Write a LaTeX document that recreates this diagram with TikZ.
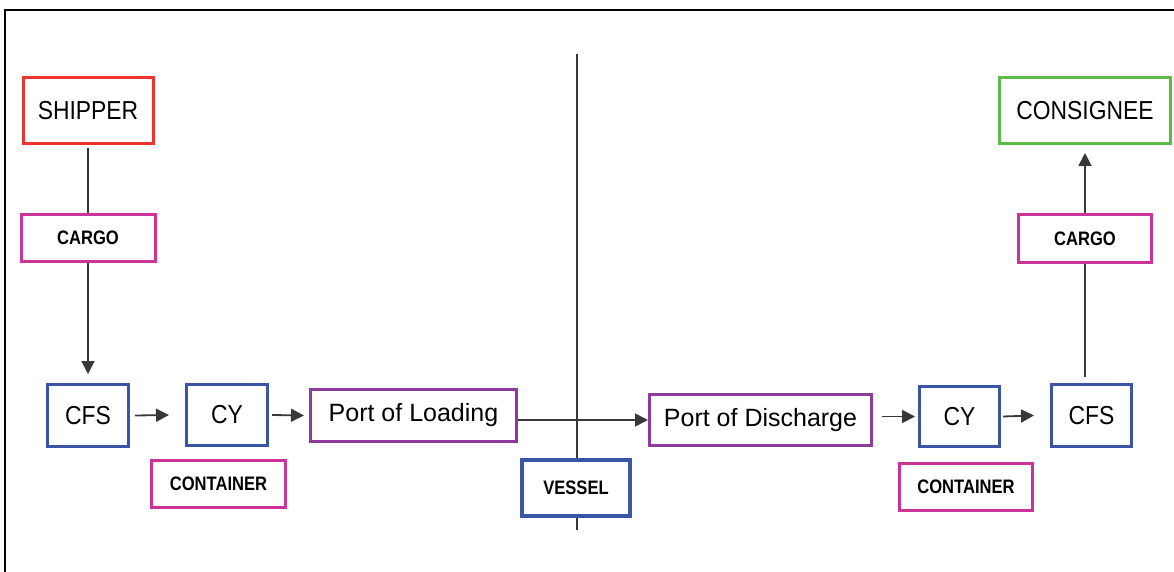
\documentclass[tikz,border=0pt]{standalone}
\usepackage{fontspec}
\setmainfont{Liberation Sans}
\newfontfamily\capsfont[FakeStretch=0.88]{Liberation Sans}
\newfontfamily\smallfont[FakeStretch=0.85]{Liberation Sans}
\usetikzlibrary{arrows.meta}
\definecolor{cRed}{HTML}{EE3330}
\definecolor{cMag}{HTML}{CC3399}
\definecolor{cBlue}{HTML}{3B55A6}
\definecolor{cPurp}{HTML}{8E3A9C}
\definecolor{cGreen}{HTML}{5CBB46}
\definecolor{cLine}{HTML}{383838}
\tikzset{
  box/.style={draw, line width=3pt, inner sep=0pt, align=center, fill=white},
  bigcaps/.style={box, font=\capsfont\fontsize{26}{28}\selectfont},
  portbox/.style={box, draw=cPurp, font=\fontsize{25}{28}\selectfont},
  tag/.style={box, font=\smallfont\bfseries\fontsize{19.5}{22}\selectfont},
  conn/.style={draw=cLine, line width=1.8pt},
  arr/.style={conn, -{Triangle[length=13pt,width=13pt]}},
  frame/.style={draw=black, line width=2pt}
}
\begin{document}
\begin{tikzpicture}[x=1pt,y=-1pt]
\useasboundingbox (0,0) rectangle (1174,572);
% frame (top and left edges)
\draw[frame] (5,572) -- (5,10) -- (1174,10);
% vertical divider
\coordinate (vtop) at (577,54);
\coordinate (vbot) at (577,530);
\draw[draw=cLine, line width=1.5pt] (vtop) -- (vbot);

% left side
\node[bigcaps, draw=cRed, minimum width=130pt, minimum height=66pt] (shipper) at (88,110.5) {SHIPPER};
\node[tag, draw=cMag, minimum width=134pt, minimum height=47pt] (cargoL) at (88,238) {CARGO};
\node[bigcaps, draw=cBlue, minimum width=81pt, minimum height=62pt] (cfsL) at (88,415.5) {CFS};
\node[bigcaps, draw=cBlue, minimum width=81pt, minimum height=61pt] (cyL) at (227,415) {CY};
\node[tag, draw=cMag, minimum width=134pt, minimum height=47pt] (contL) at (218.5,484) {CONTAINER};
\node[portbox, minimum width=206pt, minimum height=52pt] (pol) at (413.5,415.5) {Port of Loading};

% centre
\node[tag, draw=cBlue, line width=4pt, minimum width=108pt, minimum height=56pt] (vessel) at (576,488) {VESSEL};

% right side
\node[portbox, minimum width=222pt, minimum height=51pt] (pod) at (760.5,420) {Port of Discharge};
\node[bigcaps, draw=cBlue, minimum width=80pt, minimum height=60pt] (cyR) at (959.5,416.5) {CY};
\node[bigcaps, draw=cBlue, minimum width=80pt, minimum height=62pt] (cfsR) at (1091.5,415.5) {CFS};
\node[tag, draw=cMag, minimum width=133pt, minimum height=47pt] (contR) at (966,487) {CONTAINER};
\node[tag, draw=cMag, minimum width=133pt, minimum height=48pt] (cargoR) at (1085,238.5) {CARGO};
\node[bigcaps, draw=cGreen, minimum width=171pt, minimum height=66pt] (consignee) at (1085,110.5) {CONSIGNEE};

% connectors left
\draw[conn] ([yshift=-3pt]shipper.south) -- (cargoL.north);
\draw[arr] (cargoL.south) -- ([yshift=9pt]cfsL.north);
\draw[arr] ([xshift=5pt]cfsL.east) -- ([xshift=-16pt]cyL.west);
\draw[arr] ([xshift=3pt]cyL.east) -- ([xshift=-5pt]pol.west);
\draw[arr] (pol.east |- pod.west) -- (pod.west);

% connectors right
\draw[arr] ([xshift=9pt]pod.east |- cyR.west) -- ([xshift=-3pt]cyR.west);
\draw[arr] ([xshift=2pt]cyR.east) -- ([xshift=-16pt]cfsR.west);
\draw[conn] ([yshift=6pt]cfsR.north -| cargoR.south) -- (cargoR.south);
\draw[arr] (cargoR.north) -- ([yshift=-8pt]consignee.south);
\end{tikzpicture}
\end{document}
